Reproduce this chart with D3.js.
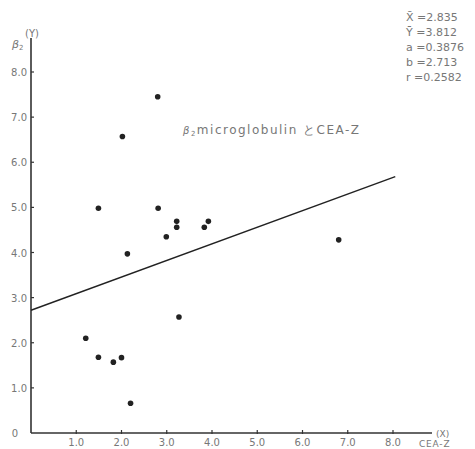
<!DOCTYPE html>
<html>
<head>
<meta charset="utf-8">
<script src="https://cdn.jsdelivr.net/npm/d3@7"></script>
<style>
  body { margin: 0; background: #fff; }
  text { font-family: "DejaVu Sans", sans-serif; fill: #777; }
</style>
</head>
<body>
<script>
var w = 475, h = 449;

// data
var xs = [2.80, 2.02, 1.49, 2.81, 2.13, 2.99, 3.22, 3.22, 3.83, 3.92, 6.80, 3.27, 1.21, 1.49, 1.82, 2.00, 2.20];
var ys = [7.45, 6.57, 4.98, 4.98, 3.97, 4.35, 4.56, 4.69, 4.56, 4.69, 4.28, 2.57, 2.10, 1.68, 1.57, 1.67, 0.66];
var lineX = [0, 8.05];
var lineY = [2.72, 5.68];
var xTicks = [1, 2, 3, 4, 5, 6, 7, 8];
var yTicks = [1, 2, 3, 4, 5, 6, 7, 8];
var stats = ["X\u0304 =2.835", "Y\u0304 =3.812", "a =0.3876", "b =2.713", "r =0.2582"];

var x = d3.scaleLinear().domain([0, 8]).range([31, 393]);
var y = d3.scaleLinear().domain([0, 8]).range([433, 72]);

var svg = d3.select("body").append("svg")
  .attr("width", w)
  .attr("height", h);

// axes
svg.append("line")
  .attr("x1", x(0)).attr("x2", x(0))
  .attr("y1", 38).attr("y2", y(0))
  .attr("stroke", "#333").attr("stroke-width", 1.6);
svg.append("line")
  .attr("x1", x(0)).attr("x2", 432)
  .attr("y1", y(0)).attr("y2", y(0))
  .attr("stroke", "#333").attr("stroke-width", 1.6);

svg.selectAll(".yt").data(yTicks).enter().append("line")
  .attr("x1", x(0)).attr("x2", x(0) + 3)
  .attr("y1", d => y(d)).attr("y2", d => y(d))
  .attr("stroke", "#333").attr("stroke-width", 1.2);
svg.selectAll(".xt").data(xTicks).enter().append("line")
  .attr("x1", d => x(d)).attr("x2", d => x(d))
  .attr("y1", y(0) - 3).attr("y2", y(0) + 1)
  .attr("stroke", "#333").attr("stroke-width", 1.2);

svg.selectAll(".yl").data(yTicks).enter().append("text")
  .attr("x", 27).attr("y", d => y(d) + 4)
  .attr("text-anchor", "end")
  .attr("font-size", "10px")
  .text(d => d.toFixed(1));
svg.append("text")
  .attr("x", 18).attr("y", y(0) + 4)
  .attr("text-anchor", "end")
  .attr("font-size", "10px")
  .text("0");
svg.selectAll(".xl").data(xTicks).enter().append("text")
  .attr("x", d => x(d)).attr("y", 446)
  .attr("text-anchor", "middle")
  .attr("font-size", "10px")
  .text(d => d.toFixed(1));

// axis names
svg.append("text").attr("x", 12).attr("y", 48).attr("font-size", "11px")
  .attr("font-style", "italic").text("β");
svg.append("text").attr("x", 19).attr("y", 50).attr("font-size", "7px").text("2");
svg.append("text").attr("x", 25).attr("y", 37).attr("font-size", "10px").text("(Y)");
svg.append("text").attr("x", 436).attr("y", 437).attr("font-size", "9px").text("(X)");
svg.append("text").attr("x", 419).attr("y", 447).attr("font-size", "9px")
  .attr("letter-spacing", "0.8px").text("CEA-Z");

// stats block
svg.selectAll(".st").data(stats).enter().append("text")
  .attr("x", 406).attr("y", (d, i) => 21 + i * 15)
  .attr("font-size", "11px")
  .text(d => d);

// title in plot
var t = svg.append("text").attr("x", 183).attr("y", 134).attr("font-size", "12px")
  .attr("letter-spacing", "1.5px");
t.append("tspan").attr("font-style", "italic").attr("font-size", "10px").text("β");
t.append("tspan").attr("font-size", "7px").attr("dy", 2).text("2");
t.append("tspan").attr("dy", -2).text("microglobulin とCEA-Z");

// regression line
var line = d3.line().x(d => x(d[0])).y(d => y(d[1]));
svg.append("path")
  .datum(d3.zip(lineX, lineY))
  .attr("d", line)
  .attr("fill", "none")
  .attr("stroke", "#222")
  .attr("stroke-width", 1.4);

// points
svg.selectAll(".pt").data(d3.zip(xs, ys)).enter().append("circle")
  .attr("cx", d => x(d[0])).attr("cy", d => y(d[1]))
  .attr("r", 2.8)
  .attr("fill", "#222");
</script>
</body>
</html>
